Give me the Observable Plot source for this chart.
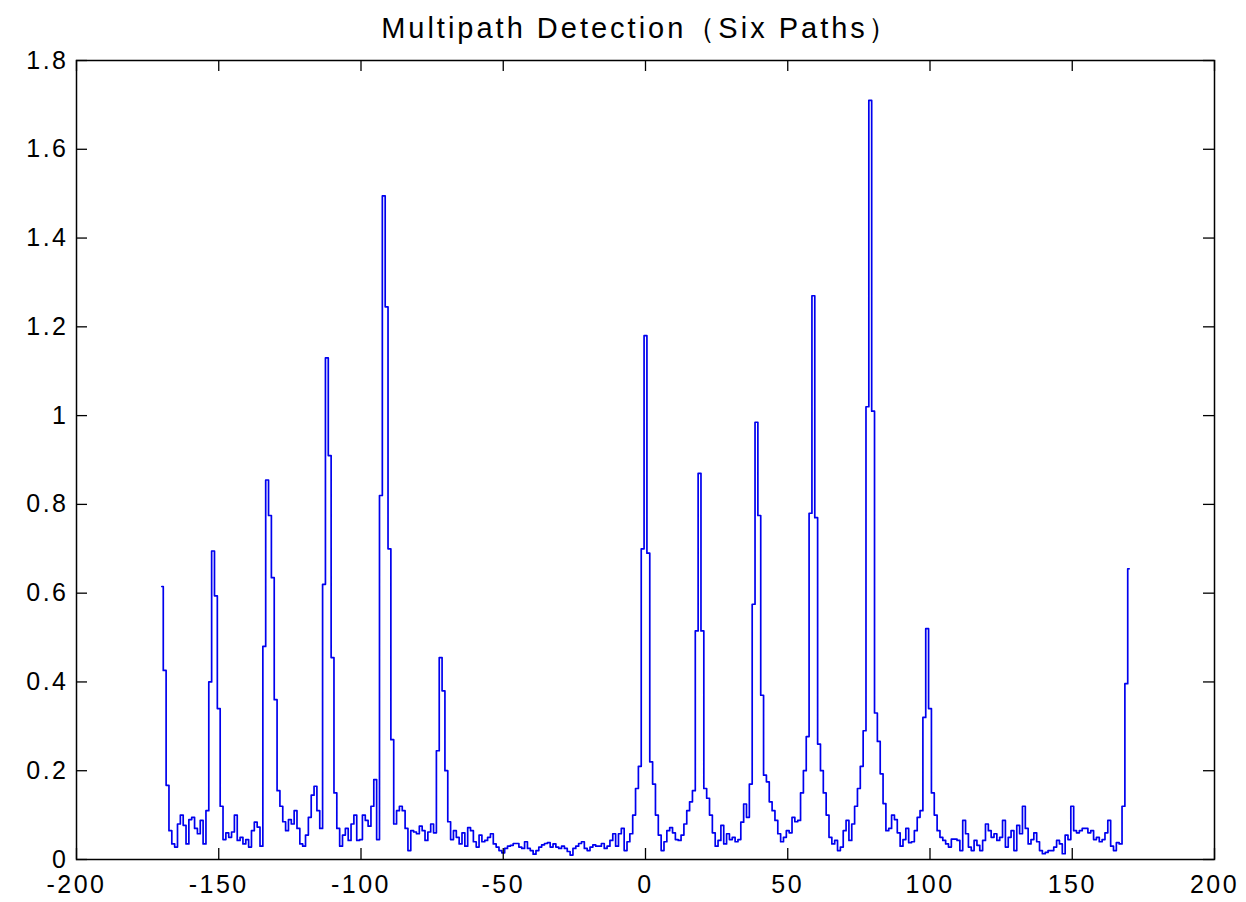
<!DOCTYPE html>
<html><head><meta charset="utf-8">
<script src="https://cdn.jsdelivr.net/npm/d3@7"></script>
<script src="https://cdn.jsdelivr.net/npm/@observablehq/plot@0.6"></script>
<style>html,body{margin:0;padding:0;background:#fff;}</style>
</head><body><div id="chart"></div>
<script>
const titleText = "Multipath Detection（Six Paths）";
const lagStart = -170; // first sample lag, one sample per unit
const amplitude = [
  0.615, 0.426, 0.167, 0.065, 0.035, 0.028, 0.08, 0.1, 0.077, 0.035,
  0.09, 0.095, 0.07, 0.058, 0.088, 0.035, 0.11, 0.40, 0.695, 0.594,
  0.34, 0.12, 0.045, 0.06, 0.05, 0.062, 0.1, 0.043, 0.05, 0.035,
  0.045, 0.028, 0.065, 0.084, 0.073, 0.03, 0.48, 0.855, 0.775, 0.635,
  0.36, 0.155, 0.12, 0.085, 0.065, 0.09, 0.08, 0.11, 0.07, 0.035,
  0.03, 0.055, 0.095, 0.145, 0.165, 0.11, 0.07, 0.62, 1.13, 0.91,
  0.455, 0.15, 0.07, 0.03, 0.055, 0.07, 0.043, 0.08, 0.1, 0.043,
  0.045, 0.1, 0.088, 0.075, 0.12, 0.18, 0.045, 0.82, 1.495, 1.245,
  0.70, 0.27, 0.08, 0.11, 0.12, 0.11, 0.07, 0.02, 0.065, 0.062,
  0.058, 0.075, 0.065, 0.043, 0.062, 0.08, 0.06, 0.245, 0.455, 0.38,
  0.2, 0.085, 0.045, 0.065, 0.05, 0.035, 0.06, 0.03, 0.072, 0.065,
  0.04, 0.028, 0.055, 0.04, 0.043, 0.05, 0.058, 0.035, 0.028, 0.02,
  0.015, 0.025, 0.03, 0.032, 0.036, 0.036, 0.028, 0.025, 0.04, 0.025,
  0.02, 0.012, 0.02, 0.028, 0.033, 0.036, 0.038, 0.028, 0.035, 0.028,
  0.025, 0.03, 0.025, 0.018, 0.01, 0.025, 0.03, 0.036, 0.04, 0.025,
  0.02, 0.028, 0.033, 0.03, 0.03, 0.036, 0.025, 0.03, 0.043, 0.058,
  0.03, 0.058, 0.07, 0.02, 0.04, 0.058, 0.1, 0.16, 0.21, 0.70,
  1.18, 0.69, 0.22, 0.17, 0.1, 0.055, 0.02, 0.04, 0.065, 0.072,
  0.06, 0.045, 0.043, 0.055, 0.08, 0.11, 0.13, 0.155, 0.515, 0.87,
  0.515, 0.16, 0.138, 0.1, 0.06, 0.03, 0.043, 0.077, 0.035, 0.058,
  0.045, 0.05, 0.04, 0.045, 0.084, 0.125, 0.095, 0.17, 0.575, 0.985,
  0.775, 0.37, 0.19, 0.175, 0.13, 0.11, 0.088, 0.058, 0.04, 0.05,
  0.065, 0.06, 0.095, 0.085, 0.088, 0.15, 0.2, 0.277, 0.78, 1.27,
  0.77, 0.26, 0.2, 0.15, 0.1, 0.05, 0.035, 0.043, 0.02, 0.028,
  0.065, 0.088, 0.043, 0.08, 0.12, 0.16, 0.21, 0.29, 1.02, 1.71,
  1.01, 0.33, 0.266, 0.193, 0.126, 0.065, 0.07, 0.1, 0.09, 0.06,
  0.03, 0.045, 0.07, 0.038, 0.04, 0.065, 0.095, 0.11, 0.32, 0.52,
  0.34, 0.15, 0.1, 0.065, 0.05, 0.043, 0.035, 0.028, 0.046, 0.046,
  0.043, 0.02, 0.088, 0.058, 0.028, 0.02, 0.043, 0.032, 0.02, 0.043,
  0.08, 0.065, 0.05, 0.058, 0.043, 0.05, 0.088, 0.028, 0.05, 0.065,
  0.02, 0.077, 0.058, 0.12, 0.07, 0.035, 0.045, 0.06, 0.04, 0.02,
  0.013, 0.016, 0.02, 0.02, 0.028, 0.043, 0.035, 0.013, 0.055, 0.045,
  0.12, 0.065, 0.06, 0.065, 0.07, 0.07, 0.06, 0.065, 0.045, 0.05,
  0.04, 0.045, 0.06, 0.088, 0.03, 0.02, 0.038, 0.035, 0.12, 0.396,
  0.655
];
const xTicks = [-200, -150, -100, -50, 0, 50, 100, 150, 200];
const yTicks = [0, 0.2, 0.4, 0.6, 0.8, 1, 1.2, 1.4, 1.6, 1.8];

const data = amplitude.map((v, i) => ({lag: lagStart + i, value: v}));

const W = 1246, H = 902, mL = 76, mR = 32, mT = 60, mB = 43;
const fw = W - mL - mR, fh = H - mT - mB, tl = 11;

const svg = Plot.plot({
  width: W, height: H,
  marginLeft: mL, marginRight: mR, marginTop: mT, marginBottom: mB,
  style: {fontFamily: "'Liberation Sans', Arial, sans-serif", fontSize: "25px", background: "#fff", color: "#000", letterSpacing: "2.5px"},
  x: {domain: [-200, 200], ticks: xTicks, tickSize: 0, tickPadding: 16, tickFormat: d => String(d), label: null},
  y: {domain: [0, 1.8], ticks: yTicks, tickSize: 0, tickPadding: 8, tickFormat: d => String(d), label: null},
  marks: [
    Plot.line(data, {x: "lag", y: "value", curve: "step", stroke: "#0000ee", strokeWidth: 1.7}),
    Plot.ruleX(xTicks, {insetTop: fh - tl, stroke: "#000", strokeWidth: 1.3}),
    Plot.ruleX(xTicks, {insetBottom: fh - tl, stroke: "#000", strokeWidth: 1.3}),
    Plot.ruleY(yTicks, {insetRight: fw - tl, stroke: "#000", strokeWidth: 1.3}),
    Plot.ruleY(yTicks, {insetLeft: fw - tl, stroke: "#000", strokeWidth: 1.3}),
    Plot.frame({stroke: "#000", strokeWidth: 1.5}),
    Plot.text([titleText], {text: d => d, frameAnchor: "top", dy: -32, dx: -5, lineAnchor: "middle", fontSize: 29, fill: "#000"})
  ]
});
d3.select(svg).selectAll('g[aria-label="text"] text').attr("letter-spacing", "3px");
document.getElementById("chart").appendChild(svg);
</script>
</body></html>
